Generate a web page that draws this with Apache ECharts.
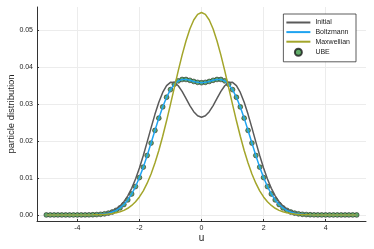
<!DOCTYPE html>
<html><head><meta charset="utf-8">
<script src="https://cdn.jsdelivr.net/npm/echarts@6/dist/echarts.min.js"></script>
<style>html,body{margin:0;padding:0;background:#fff}#c{width:374px;height:249px}</style>
</head><body><div id="c"></div>
<script>
var u = [-5,-4.875,-4.75,-4.625,-4.5,-4.375,-4.25,-4.125,-4,-3.875,-3.75,-3.625,-3.5,-3.375,-3.25,-3.125,
-3,-2.875,-2.75,-2.625,-2.5,-2.375,-2.25,-2.125,-2,-1.875,-1.75,-1.625,-1.5,-1.375,-1.25,-1.125,
-1,-0.875,-0.75,-0.625,-0.5,-0.375,-0.25,-0.125,0,0.125,0.25,0.375,0.5,0.625,0.75,0.875,
1,1.125,1.25,1.375,1.5,1.625,1.75,1.875,2,2.125,2.25,2.375,2.5,2.625,2.75,2.875,
3,3.125,3.25,3.375,3.5,3.625,3.75,3.875,4,4.125,4.25,4.375,4.5,4.625,4.75,4.875,5];

var initial = [0,0,0,0,0,0,0,0,
0.000004,0.000008,0.000017,0.000034,0.000065,0.000119,0.000213,0.000370,
0.000621,0.001010,0.001592,0.002434,0.003606,0.005179,0.007209,0.009727,
0.012718,0.016121,0.019809,0.023598,0.027258,0.030536,0.033191,0.035028,
0.035931,0.035887,0.034996,0.033461,0.031565,0.029630,0.027971,0.026858,
0.026468,
0.026858,0.027971,0.029630,0.031565,0.033461,0.034996,0.035887,0.035931,
0.035028,0.033191,0.030536,0.027258,0.023598,0.019809,0.016121,0.012718,
0.009727,0.007209,0.005179,0.003606,0.002434,0.001592,0.001010,0.000621,
0.000370,0.000213,0.000119,0.000065,0.000034,0.000017,0.000008,0.000004,
0,0,0,0,0,0,0,0];

var boltzmann = [0,0,0,0,0,0,0,0,
0.000004,0.000008,0.000015,0.000029,0.000055,0.000098,0.000173,0.000297,
0.000494,0.000799,0.001254,0.001912,0.002829,0.004067,0.005677,0.007696,
0.010131,0.012959,0.016111,0.019476,0.022904,0.026227,0.029272,0.031887,
0.033958,0.035434,0.036326,0.036708,0.036707,0.036474,0.036167,0.035922,
0.035831,
0.035922,0.036167,0.036474,0.036707,0.036708,0.036326,0.035434,0.033958,
0.031887,0.029272,0.026227,0.022904,0.019476,0.016111,0.012959,0.010131,
0.007696,0.005677,0.004067,0.002829,0.001912,0.001254,0.000799,0.000494,
0.000297,0.000173,0.000098,0.000055,0.000029,0.000015,0.000008,0.000004,
0,0,0,0,0,0,0,0];

var maxwellian = [0,0,0,0,0,0,0,0,
0.000003,0.000006,0.000011,0.000019,0.000033,0.000056,0.000092,0.000149,
0.000237,0.000370,0.000566,0.000850,0.001251,0.001809,0.002567,0.003573,
0.004880,0.006540,0.008604,0.011105,0.014064,0.017479,0.021315,0.025508,
0.029952,0.034515,0.039026,0.043301,0.047145,0.050369,0.052806,0.054324,
0.054840,
0.054324,0.052806,0.050369,0.047145,0.043301,0.039026,0.034515,0.029952,
0.025508,0.021315,0.017479,0.014064,0.011105,0.008604,0.006540,0.004880,
0.003573,0.002567,0.001809,0.001251,0.000850,0.000566,0.000370,0.000237,
0.000149,0.000092,0.000056,0.000033,0.000019,0.000011,0.000006,0.000003,
0,0,0,0,0,0,0,0];

var ube = [0,0,0,0,0,0,0,0,
0.000004,0.000008,0.000015,0.000029,0.000055,0.000098,0.000173,0.000297,
0.000494,0.000799,0.001254,0.001912,0.002829,0.004067,0.005677,0.007696,
0.010131,0.012959,0.016111,0.019476,0.022904,0.026227,0.029272,0.031887,
0.033958,0.035434,0.036326,0.036708,0.036707,0.036474,0.036167,0.035922,
0.035831,
0.035922,0.036167,0.036474,0.036707,0.036708,0.036326,0.035434,0.033958,
0.031887,0.029272,0.026227,0.022904,0.019476,0.016111,0.012959,0.010131,
0.007696,0.005677,0.004067,0.002829,0.001912,0.001254,0.000799,0.000494,
0.000297,0.000173,0.000098,0.000055,0.000029,0.000015,0.000008,0.000004,
0,0,0,0,0,0,0,0];

var xTicks = [-4,-2,0,2,4];
var yTicks = [0,0.01,0.02,0.03,0.04,0.05];
var names = ['Initial','Boltzmann','Maxwellian','UBE'];

function pairs(v){ return u.map(function(x,i){ return [x, v[i]]; }); }

var chart = echarts.init(document.getElementById('c'), null, {renderer:'canvas'});
var font = 'Liberation Sans';
var noSym = {color:'rgba(0,0,0,0)', borderWidth:0, borderColor:'rgba(0,0,0,0)'};
chart.setOption({
  animation:false,
  backgroundColor:'#fff',
  textStyle:{fontFamily:font},
  grid:{left:37, right:8, top:7, bottom:28, containLabel:false, outerBoundsMode:'none'},
  legend:{
    orient:'vertical', right:18, top:14,
    data:[
      {name:'Initial', itemStyle:noSym},
      {name:'Boltzmann', itemStyle:noSym},
      {name:'Maxwellian', itemStyle:noSym},
      {name:'UBE'}
    ],
    backgroundColor:'#fff', borderColor:'#333', borderWidth:0.8,
    padding:[5,6,5,2], itemGap:2.6, itemWidth:24, itemHeight:7,
    textStyle:{fontSize:7, color:'#222', fontFamily:font}
  },
  xAxis:{
    type:'value', min:-5.3, max:5.3,
    name:'u', nameLocation:'middle', nameGap:12, nameMoveOverlap:false,
    nameTextStyle:{fontSize:10, color:'#222', fontFamily:font},
    axisLine:{show:true, onZero:false, lineStyle:{color:'#333', width:1}},
    axisTick:{show:true, inside:true, length:2, customValues:xTicks, lineStyle:{color:'#333'}},
    axisLabel:{customValues:xTicks, fontSize:7, color:'#222', margin:4, fontFamily:font},
    splitLine:{show:true, lineStyle:{color:'#ececec', width:1}}
  },
  yAxis:{
    type:'value', min:-0.00164, max:0.05634,
    name:'particle distribution', nameLocation:'middle', nameGap:21, nameMoveOverlap:false,
    nameTextStyle:{fontSize:9.5, color:'#222', fontFamily:font},
    axisLine:{show:true, onZero:false, lineStyle:{color:'#333', width:1}},
    axisTick:{show:true, inside:true, length:2, customValues:yTicks, lineStyle:{color:'#333'}},
    axisLabel:{customValues:yTicks, fontSize:7, color:'#222', margin:4, fontFamily:font,
      formatter:function(v){ return v.toFixed(2); }},
    splitLine:{show:true, lineStyle:{color:'#ececec', width:1}}
  },
  series:[
    {name:'Initial', type:'line', data:pairs(initial), symbol:'none',
     lineStyle:{color:'#5a5a5a', width:1.5}, itemStyle:{color:'#5a5a5a'}},
    {name:'Boltzmann', type:'line', data:pairs(boltzmann), symbol:'none',
     lineStyle:{color:'#1fa3f0', width:1.5}, itemStyle:{color:'#1fa3f0'}},
    {name:'Maxwellian', type:'line', data:pairs(maxwellian), symbol:'none',
     lineStyle:{color:'#a3a52a', width:1.5}, itemStyle:{color:'#a3a52a'}},
    {name:'UBE', type:'scatter', data:pairs(ube), symbol:'circle', symbolSize:4.8,
     itemStyle:{color:'#3a9744', borderColor:'#1a1a1a', borderWidth:0.7}}
  ]
});
</script></body></html>
